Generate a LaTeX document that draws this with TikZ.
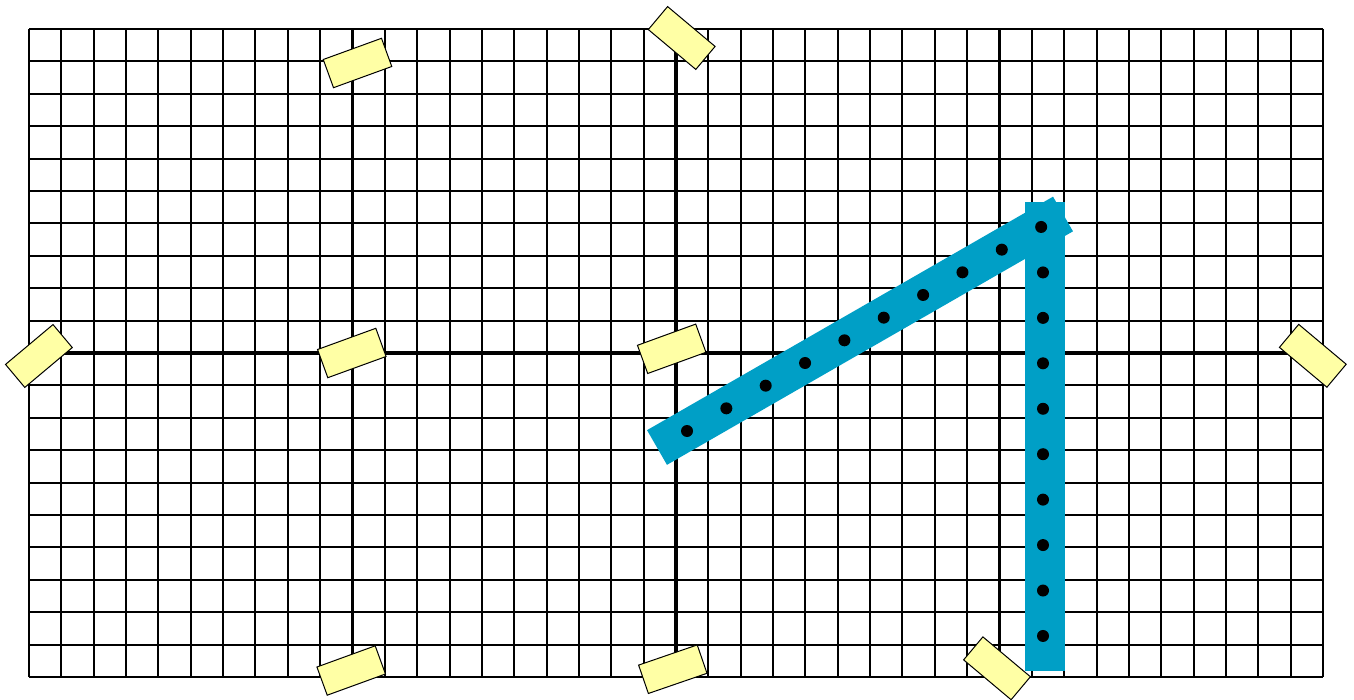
\documentclass[tikz,border=0pt]{standalone}
\begin{document}
\begin{tikzpicture}[x=1pt,y=-1pt,
  thinline/.style={line width=2pt, black},
  thickline/.style={line width=3.6pt, black},
  note/.style={draw=black, line width=1pt, fill=noteyellow, inner sep=0pt, minimum width=62pt, minimum height=30pt},
  band/.style={line width=40pt, draw=bandblue, line cap=butt},
  dot/.style={circle, fill=black, inner sep=0pt, minimum size=12pt}]
\definecolor{noteyellow}{RGB}{255,255,165}
\definecolor{bandblue}{RGB}{0,159,198}
\useasboundingbox (0,0) rectangle (1354,700);
% grid
\foreach \i in {0,...,40} {
  \draw[thinline] ({29+\i*32.35},29) -- ({29+\i*32.35},677);
}
\foreach \j in {0,...,20} {
  \draw[thinline] (29,{29+\j*32.4}) -- (1323,{29+\j*32.4});
}
\foreach \i in {10,20,30} {
  \draw[thickline] ({29+\i*32.35},29) -- ({29+\i*32.35},677);
}
\draw[thickline] (29,353) -- (1323,353);
% bands
\coordinate (d0) at (657,447.5);
\coordinate (d1) at (1063,214);
\coordinate (v0) at (1045,202);
\coordinate (v1) at (1045,671);
\draw[band] (v0) -- (v1);
\draw[band] (d0) -- (d1);
% dots
\foreach \k [count=\n] in {0,...,9} {
  \node[dot] (dd\n) at ({687+\k*39.35},{431-\k*22.67}) {};
}
\foreach \k [count=\n] in {1,...,9} {
  \node[dot] (vd\n) at (1043,{227+\k*45.44}) {};
}
% notes
\node[note, rotate=20] (n1) at (357.5,63) {};
\node[note, rotate=-40] (n2) at (681.7,38) {};
\node[note, rotate=40] (n3) at (38.9,356) {};
\node[note, rotate=20] (n4) at (351.8,353) {};
\node[note, rotate=20] (n5) at (671.7,348.8) {};
\node[note, rotate=-40] (n6) at (1312.8,355.8) {};
\node[note, rotate=-40] (n7) at (997,668.3) {};
\node[note, rotate=20] (n8) at (351.2,670.5) {};
\node[note, rotate=19] (n9) at (672.8,669.2) {};
\end{tikzpicture}
\end{document}
